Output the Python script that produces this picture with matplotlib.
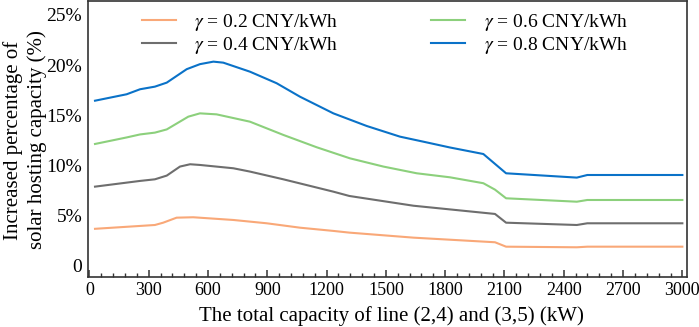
import numpy as np
import matplotlib
matplotlib.use("Agg")
import matplotlib.pyplot as plt
from matplotlib.ticker import MultipleLocator

plt.rcParams['font.family'] = ['Liberation Serif', 'DejaVu Serif']
plt.rcParams['mathtext.fontset'] = 'stix'

# datos
x_blue = [28, 188, 256, 331, 391, 492, 559, 627, 677, 812, 947, 1065, 1234, 1403, 1571, 1689, 1824, 1993, 2108, 2466, 2519, 3000]
y_blue = [16.46, 17.1, 17.6, 17.86, 18.26, 19.6, 20.1, 20.35, 20.25, 19.35, 18.2, 16.86, 15.2, 13.94, 12.88, 12.38, 11.8, 11.15, 9.23, 8.8, 9.06, 9.06]

x_green = [28, 188, 256, 331, 391, 500, 559, 643, 812, 981, 1150, 1318, 1487, 1656, 1824, 1993, 2052, 2108, 2466, 2519, 3000]
y_green = [12.15, 12.8, 13.1, 13.28, 13.6, 14.87, 15.2, 15.1, 14.37, 13.05, 11.82, 10.72, 9.9, 9.23, 8.83, 8.24, 7.6, 6.74, 6.4, 6.57, 6.57]

x_gray = [28, 256, 331, 391, 458, 509, 559, 728, 812, 981, 1234, 1315, 1639, 2052, 2108, 2466, 2519, 3000]
y_gray = [7.9, 8.47, 8.63, 9.0, 9.9, 10.13, 10.06, 9.73, 9.4, 8.63, 7.4, 6.97, 6.0, 5.18, 4.31, 4.08, 4.25, 4.25]

x_orange = [28, 331, 373, 441, 525, 728, 897, 1066, 1234, 1315, 1639, 2052, 2108, 2466, 2519, 3000]
y_orange = [3.7, 4.08, 4.31, 4.81, 4.85, 4.58, 4.25, 3.81, 3.49, 3.32, 2.82, 2.36, 1.92, 1.86, 1.92, 1.92]

y_ticks = [0, 5, 10, 15, 20, 25]
y_ticklabels = ['0', '5%', '10%', '15%', '20%', '25%']
x_ticks = list(range(0, 3001, 300))

fs = 14

fig = plt.figure(figsize=(6.99, 3.27), dpi=100)
ax = fig.add_axes([87.7/699, 1 - 276.7/327, (687.3 - 87.7)/699, (276.7 - 0.5)/327])

l1, = ax.plot(x_orange, y_orange, color='#F9A878', lw=1.5, label=r'$\gamma$ = 0.2 CNY/kWh')
l2, = ax.plot(x_gray, y_gray, color='#6E6E6E', lw=1.5, label=r'$\gamma$ = 0.4 CNY/kWh')
l3, = ax.plot(x_green, y_green, color='#8CD07C', lw=1.5, label=r'$\gamma$ = 0.6 CNY/kWh')
l4, = ax.plot(x_blue, y_blue, color='#0A72C8', lw=1.5, label=r'$\gamma$ = 0.8 CNY/kWh')

ax.set_xlim(-9, 3025)
ax.set_ylim(-1.07, 26.44)

ax.set_xticks(x_ticks)
ax.xaxis.set_minor_locator(MultipleLocator(60))
ax.tick_params(axis='x', which='major', direction='in', length=5, width=1.1, labelsize=13, pad=4, color='#333333')
ax.tick_params(axis='x', which='minor', direction='in', length=3, width=1.0, color='#333333')
ax.set_yticks(y_ticks)
ax.set_yticklabels(y_ticklabels)
ax.tick_params(axis='y', length=0, labelsize=fs, pad=4)

for s in ax.spines.values():
    s.set_linewidth(1.2)
    s.set_color('#333333')

fig.text(391/699, 1 - 316/327, 'The total capacity of line (2,4) and (3,5) (kW)',
         ha='center', va='center', fontsize=15)
fig.text(25/699, 1 - 140/327, 'Increased percentage of\nsolar hosting capacity (%)',
         ha='center', va='center', rotation=90, fontsize=15, linespacing=1.3)

ax.legend(handles=[l1, l2, l3, l4], ncol=2, frameon=False, fontsize=fs,
          loc='upper left', bbox_to_anchor=(142/699, 1 - 12/327), bbox_transform=fig.transFigure,
          borderpad=0, borderaxespad=0, handlelength=1.75, handletextpad=0.95,
          columnspacing=4.75, labelspacing=0.1)

fig.savefig('out.png', dpi=100)
